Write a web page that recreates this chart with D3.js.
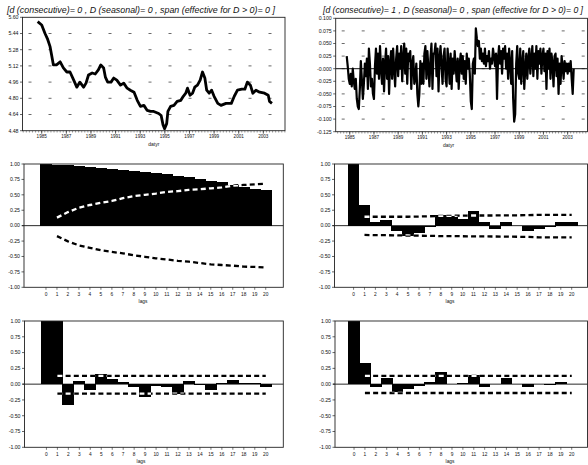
<!DOCTYPE html>
<html><head><meta charset="utf-8">
<script src="https://cdn.jsdelivr.net/npm/d3@7"></script>
<style>body{margin:0;background:#fff}svg{display:block}text{font-family:"Liberation Sans",Arial,sans-serif;fill:#111}</style>
</head><body>
<script>
// ---------- DATA ----------
const titleLeft = "[d (consecutive)= 0 , D (seasonal)= 0 , span (effective for D > 0)= 0 ]";
const titleRight = "[d (consecutive)= 1 , D (seasonal)= 0 , span (effective for D > 0)= 0 ]";
const timeAxisLabel = "datyr";
const lagAxisLabel = "lags";

const yearTicks = [1985,1987,1989,1991,1993,1995,1997,1999,2001,2003];
const levelTicks = ["5.60","5.44","5.28","5.12","4.96","4.80","4.64","4.48"];
const diffTicks = ["0.100","0.075","0.050","0.025","-0.000","-0.025","-0.050","-0.075","-0.100","-0.125"];
const acfTicks = ["1.00","0.75","0.50","0.25","0.00","-0.25","-0.50","-0.75","-1.00"];
const lags = d3.range(0,21);

// level series (year, value)
const levelDates = [1984.67,1985.0,1985.27,1985.46,1985.68,1985.8,1985.95,1986.2,1986.5,1986.76,1987.04,1987.3,1987.6,1987.85,1988.1,1988.4,1988.6,1988.8,1989.1,1989.35,1989.6,1989.8,1990.03,1990.17,1990.36,1990.63,1990.85,1991.1,1991.4,1991.66,1991.94,1992.2,1992.5,1992.76,1993.02,1993.3,1993.57,1993.84,1994.1,1994.5,1994.7,1994.85,1994.98,1995.15,1995.25,1995.47,1995.74,1996.0,1996.3,1996.5,1996.7,1996.84,1997.05,1997.25,1997.43,1997.65,1997.87,1998.06,1998.25,1998.4,1998.6,1998.8,1999.0,1999.3,1999.56,1999.97,2000.4,2000.64,2000.9,2001.25,2001.5,2001.7,2001.95,2002.15,2002.4,2002.7,2003.1,2003.4,2003.5,2003.7];
const levelValues = [5.557,5.524,5.44,5.39,5.31,5.23,5.13,5.13,5.16,5.10,5.06,5.06,4.98,4.91,4.96,4.91,4.95,5.03,5.05,5.04,5.08,5.13,5.10,5.01,4.96,4.96,5.00,4.98,4.93,4.95,4.90,4.88,4.86,4.78,4.72,4.73,4.68,4.67,4.67,4.65,4.63,4.54,4.50,4.55,4.67,4.72,4.73,4.77,4.78,4.82,4.85,4.90,4.83,4.85,4.91,4.93,4.98,5.06,5.00,4.88,4.85,4.88,4.82,4.75,4.73,4.75,4.75,4.82,4.88,4.89,4.89,4.96,4.93,4.85,4.88,4.86,4.85,4.83,4.77,4.75];

// monthly first differences, starting Oct 1984
const diffStart = 1984.75;
const diffValues = [
 0.025,0.005,-0.02,
 -0.03,-0.01,-0.035,0.0,-0.025,-0.04,-0.02,-0.06,-0.075,-0.08,-0.04,0.015,
 -0.02,-0.06,-0.03,0.01,-0.015,0.02,-0.04,0.04,0.01,-0.035,-0.02,-0.05,
 -0.06,0.005,0.04,-0.01,0.03,-0.02,0.045,0.0,-0.03,0.02,-0.045,0.01,
 0.04,-0.02,0.025,-0.05,0.01,0.035,-0.02,0.04,0.0,-0.035,0.02,0.045,
 -0.015,0.03,0.0,0.045,-0.025,0.02,0.05,-0.01,0.04,-0.03,0.03,0.015,
 0.035,-0.04,0.01,0.025,-0.03,-0.02,0.01,-0.05,-0.075,-0.05,0.015,-0.03,
 0.01,-0.03,0.03,0.045,-0.02,0.035,0.0,-0.035,0.02,0.05,-0.04,0.03,
 0.03,0.05,-0.015,0.04,-0.045,0.02,0.045,0.005,-0.03,0.025,0.04,-0.02,
 -0.035,0.04,0.01,-0.03,0.03,-0.04,0.02,-0.01,0.035,0.005,-0.025,0.02,
 -0.04,0.01,0.03,-0.01,0.025,-0.02,0.015,-0.03,0.03,0.0,0.02,-0.01,
 -0.065,-0.08,0.01,0.02,-0.01,0.08,0.06,0.045,0.055,0.02,0.04,0.015,
 0.03,0.01,0.04,0.005,0.025,0.015,0.035,0.0,0.02,0.01,0.04,0.025,
 0.005,0.03,-0.06,0.02,0.045,0.01,0.035,-0.01,0.04,0.02,0.045,0.0,
 0.03,-0.02,0.04,0.01,-0.03,0.035,-0.06,-0.105,-0.09,0.01,0.045,-0.01,
 -0.02,0.04,-0.03,0.01,0.035,-0.04,0.0,0.03,-0.02,0.02,0.04,-0.01,
 0.02,0.045,-0.015,0.03,0.0,0.045,-0.02,0.035,0.01,0.04,-0.01,0.025,
 0.04,-0.005,0.03,-0.04,0.035,0.0,0.04,-0.02,0.03,0.01,-0.035,0.025,
 0.03,-0.015,0.02,-0.05,0.01,-0.03,0.025,0.005,-0.02,0.015,-0.005,0.01,
 -0.01,0.01,-0.005,0.015,-0.02,-0.05,0.0
];

// ACF of levels
const acfLevel = [1.0,0.99,0.98,0.97,0.955,0.94,0.925,0.91,0.89,0.87,0.85,0.83,0.81,0.79,0.76,0.73,0.70,0.66,0.63,0.60,0.58];
const acfLevelUp = [null,0.13,0.22,0.29,0.335,0.37,0.40,0.445,0.48,0.50,0.52,0.548,0.56,0.58,0.59,0.606,0.62,0.65,0.66,0.67,0.68];
const acfLevelLo = [null,-0.17,-0.255,-0.32,-0.36,-0.40,-0.425,-0.45,-0.48,-0.505,-0.53,-0.548,-0.57,-0.585,-0.606,-0.628,-0.638,-0.649,-0.665,-0.67,-0.68];
// ACF of differences
const acfDiff = [1.0,0.335,0.064,0.096,-0.085,-0.16,-0.12,-0.03,0.17,0.16,0.11,0.245,0.064,-0.05,0.064,-0.01,-0.085,-0.05,-0.03,0.064,0.064];
const acfDiffUp = [null,0.144,0.144,0.144,0.144,0.144,0.148,0.152,0.16,0.16,0.162,0.165,0.165,0.165,0.167,0.168,0.17,0.175,0.175,0.175,0.175];
const acfDiffLo = [null,-0.15,-0.155,-0.155,-0.158,-0.16,-0.163,-0.165,-0.17,-0.17,-0.172,-0.175,-0.175,-0.176,-0.178,-0.18,-0.182,-0.19,-0.19,-0.19,-0.19];
// PACF of levels
const pacfLevel = [1.0,1.0,-0.33,0.047,-0.10,0.16,0.08,0.03,-0.05,-0.205,-0.03,-0.04,-0.15,0.05,-0.015,-0.10,0.015,0.06,0.02,0.025,-0.04];
const pacfLevelUp = [null,0.13,0.13,0.13,0.13,0.13,0.13,0.13,0.13,0.13,0.13,0.13,0.13,0.13,0.13,0.13,0.13,0.13,0.13,0.13,0.13];
const pacfLevelLo = [null,-0.15,-0.15,-0.15,-0.15,-0.15,-0.15,-0.15,-0.15,-0.15,-0.15,-0.15,-0.15,-0.15,-0.15,-0.15,-0.15,-0.15,-0.15,-0.15,-0.15];
// PACF of differences
const pacfDiff = [1.0,0.33,-0.05,0.09,-0.13,-0.08,-0.03,0.04,0.19,0.01,0.02,0.15,-0.05,0.01,0.09,0.0,-0.05,0.0,-0.02,0.04,0.0];
const pacfDiffUp = [null,0.13,0.13,0.13,0.13,0.13,0.13,0.13,0.13,0.13,0.13,0.13,0.13,0.13,0.13,0.13,0.13,0.13,0.13,0.13,0.13];
const pacfDiffLo = [null,-0.14,-0.14,-0.14,-0.14,-0.14,-0.14,-0.14,-0.14,-0.14,-0.14,-0.14,-0.14,-0.14,-0.14,-0.14,-0.14,-0.14,-0.14,-0.14,-0.14];

// ---------- DRAW ----------
const svg = d3.select("body").append("svg").attr("width",588).attr("height",465);
let clipId = 0;

function frame(g, x0, x1, y0, y1){
  g.append("rect").attr("x",x0).attr("y",y0).attr("width",x1-x0).attr("height",y1-y0)
   .attr("fill","none").attr("stroke","#222").attr("stroke-width",0.9);
}
function yAxisLabels(g, ticks, y, x0){
  ticks.forEach(t=>{
    const v = +t;
    g.append("line").attr("x1",x0-2.5).attr("x2",x0).attr("y1",y(v)).attr("y2",y(v)).attr("stroke","#222").attr("stroke-width",0.7);
    g.append("text").attr("x",x0-4).attr("y",y(v)).attr("dy","0.35em").attr("text-anchor","end")
     .attr("font-size",5.2).text(t);
  });
}

function timePanel(o){
  const g = svg.append("g");
  const x = d3.scaleLinear().domain(o.xdom).range([o.x0,o.x1]);
  const ticksNum = o.ticks.map(Number);
  const y = d3.scaleLinear().domain([d3.min(ticksNum), d3.max(ticksNum)]).range([o.y1,o.y0]);
  g.append("text").attr("x",o.tx).attr("y",o.ty).attr("font-size",8.5).attr("font-style","italic")
   .attr("textLength",o.tw).attr("lengthAdjust","spacingAndGlyphs").text(o.title);
  ticksNum.slice(1,-1).forEach(v=>{
    g.append("line").attr("x1",o.x0+6).attr("x2",o.x1).attr("y1",y(v)).attr("y2",y(v))
     .attr("stroke","#444").attr("stroke-width",0.8).attr("stroke-dasharray","3,17");
  });
  if(o.zero){
    g.append("line").attr("x1",o.x0).attr("x2",o.x1).attr("y1",y(0)).attr("y2",y(0)).attr("stroke","#111").attr("stroke-width",1);
  }
  frame(g,o.x0,o.x1,o.y0,o.y1);
  yAxisLabels(g,o.ticks,y,o.x0);
  const minor = d3.range(Math.ceil(o.xdom[0]*4)/4, o.xdom[1], 0.25);
  g.selectAll(".mt").data(minor).join("line").attr("x1",d=>x(d)).attr("x2",d=>x(d))
   .attr("y1",o.y1).attr("y2",o.y1+1.8).attr("stroke","#333").attr("stroke-width",0.5);
  g.selectAll(".xt").data(yearTicks).join("line").attr("x1",d=>x(d)).attr("x2",d=>x(d))
   .attr("y1",o.y1).attr("y2",o.y1+3).attr("stroke","#222").attr("stroke-width",0.7);
  g.selectAll(".xl").data(yearTicks).join("text").attr("x",d=>x(d)).attr("y",o.y1+7.5)
   .attr("text-anchor","middle").attr("font-size",4.6).text(d=>d);
  g.append("text").attr("x",(o.x0+o.x1)/2+ (o.lx||0)).attr("y",o.y1+15).attr("text-anchor","middle")
   .attr("font-size",5).text(timeAxisLabel);
  const line = d3.line().x(d=>x(d[0])).y(d=>y(d[1]));
  g.append("path").attr("d",line(o.data)).attr("fill","none").attr("stroke","#000")
   .attr("stroke-width",o.sw).attr("stroke-linejoin","round");
}

function acfPanel(o){
  const g = svg.append("g");
  const x = d3.scaleLinear().domain(o.xdom).range([o.x0,o.x1]);
  const y = d3.scaleLinear().domain([-1,1]).range([o.y1,o.y0]);
  const bw = x(1)-x(0);
  g.append("line").attr("x1",o.x0-2).attr("x2",o.x1).attr("y1",y(0)).attr("y2",y(0)).attr("stroke","#111").attr("stroke-width",0.9);
  const barsData = lags.map(l=>({l, v:o.vals[l]}));
  const id = "clip"+(clipId++);
  const cp = svg.append("clipPath").attr("id",id);
  const rectAttrs = sel => sel.attr("x",d=>x(d.l)-bw/2-0.4).attr("width",bw+0.8)
     .attr("y",d=>y(Math.max(0,d.v))).attr("height",d=>Math.abs(y(d.v)-y(0)));
  g.selectAll(".bar").data(barsData).join("rect").call(rectAttrs).attr("fill","#000").attr("shape-rendering","crispEdges");
  cp.selectAll("rect").data(barsData).join("rect").call(rectAttrs);
  frame(g,o.x0,o.x1,o.y0,o.y1);
  yAxisLabels(g,acfTicks,y,o.x0);
  const line = d3.line().defined(d=>d[1]!=null).x(d=>x(d[0])).y(d=>y(d[1]));
  [o.up,o.lo].forEach(arr=>{
    const pts = lags.map(l=>[l,arr[l]]);
    g.append("path").attr("d",line(pts)).attr("fill","none").attr("stroke","#000").attr("stroke-width",2.3).attr("stroke-dasharray","5,3.2");
    g.append("path").attr("d",line(pts)).attr("fill","none").attr("stroke","#fff").attr("stroke-width",2.3).attr("stroke-dasharray","5,3.2").attr("clip-path","url(#"+id+")");
  });
  g.selectAll(".xt").data(lags).join("line").attr("x1",d=>x(d)).attr("x2",d=>x(d))
   .attr("y1",o.y1).attr("y2",o.y1+2.5).attr("stroke","#222").attr("stroke-width",0.6);
  g.selectAll(".xl").data(lags).join("text").attr("x",d=>x(d)).attr("y",o.y1+8.3)
   .attr("text-anchor","middle").attr("font-size",4.8).text(d=>d);
  g.append("text").attr("x",o.lxp).attr("y",o.y1+16).attr("text-anchor","middle").attr("font-size",4.8).text(lagAxisLabel);
}

timePanel({title:titleLeft, tx:7, ty:12.5, tw:268, x0:22.5, x1:285, y0:17.3, y1:130.7,
  xdom:[1983.44,2004.76], ticks:levelTicks, data:levelDates.map((d,i)=>[d,levelValues[i]]), sw:2.8});
timePanel({title:titleRight, tx:323, ty:12.5, tw:260, x0:335.7, x1:587.5, y0:18.3, y1:131.7,
  xdom:[1983.84,2004.64], ticks:diffTicks, zero:true, lx:-13,
  data:diffValues.map((v,i)=>[diffStart+i/12,v]), sw:2.2});

acfPanel({x0:24, x1:283.3, y0:164, y1:287.3, xdom:[-2,21.6], vals:acfLevel, up:acfLevelUp, lo:acfLevelLo, lxp:143});
acfPanel({x0:334.5, x1:587.5, y0:164, y1:287.3, xdom:[-1.75,21.45], vals:acfDiff, up:acfDiffUp, lo:acfDiffLo, lxp:450});
acfPanel({x0:24.5, x1:283.3, y0:321, y1:447.3, xdom:[-2,21.6], vals:pacfLevel, up:pacfLevelUp, lo:pacfLevelLo, lxp:141});
acfPanel({x0:335, x1:587.5, y0:321, y1:447.3, xdom:[-1.75,21.45], vals:pacfDiff, up:pacfDiffUp, lo:pacfDiffLo, lxp:450});
</script>
</body></html>
